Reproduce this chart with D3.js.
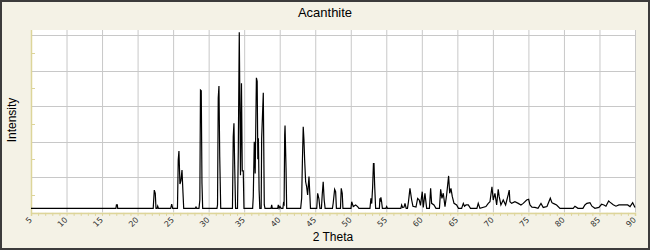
<!DOCTYPE html>
<html>
<head>
<meta charset="utf-8">
<script src="https://cdn.jsdelivr.net/npm/d3@7"></script>
<style>
  body { margin: 0; background: #fff; }
  text { font-family: "Liberation Sans", Arial, sans-serif; }
</style>
</head>
<body>
<div id="chart"></div>
<script>
// XRD pattern vertices
var twoTheta = [5, 16.95, 17.02, 17.15, 17.2, 22.2, 22.35, 22.49, 22.59, 22.75, 22.83, 22.94,
  24.66, 24.8, 24.94, 25.61, 25.72, 25.82, 25.96, 26.1, 26.25, 26.39, 26.49, 28.12, 28.22, 28.31,
  28.64, 28.76, 28.85, 28.96, 29.06, 29.16, 31.17, 31.25, 31.35, 31.45, 31.56, 31.7,
  33.35, 33.46, 33.56, 33.66, 33.79, 34.06, 34.17, 34.31, 34.48, 34.62, 34.73, 34.87, 34.97,
  36.19, 36.28, 36.42, 36.55, 36.72, 36.83, 36.92, 37.0, 37.1, 37.2, 37.39, 37.46, 37.69, 37.83, 37.93,
  38.78, 38.87, 38.96, 39.72, 39.8, 39.92, 40.04, 40.2, 40.45, 40.53, 40.62, 40.7, 40.75, 40.89, 40.98,
  42.95, 43.09, 43.2, 43.31, 43.41, 43.51, 43.65, 43.79, 43.93, 44.12, 44.21, 44.33,
  45.21, 45.34, 45.52, 45.66, 45.87, 45.98, 46.12, 46.26, 46.39, 47.42, 47.53, 47.73, 47.87, 47.98,
  48.55, 48.66, 48.8, 48.9, 50.03, 50.13, 50.35, 50.69, 50.97, 51.15,
  52.7, 52.84, 52.95, 53.08, 53.19, 53.27, 53.36, 53.5, 54.03, 54.1, 54.17, 54.24, 54.34, 54.45,
  54.95, 55.05, 55.15, 57.05, 57.16, 57.3, 57.5, 57.63, 57.8,
  57.98, 58.12, 58.33, 58.57, 58.75, 59.18, 59.41, 59.64, 59.81, 60.06, 60.2, 60.44, 60.68,
  61.07, 61.24, 61.38, 61.71, 61.99, 62.48, 62.65, 62.83, 63.02, 63.26, 63.49, 63.77, 63.92,
  64.1, 64.29, 64.53, 64.9, 65.16, 65.6, 65.84, 66.0, 66.22, 66.54, 66.85, 67.75, 67.94, 68.18,
  69.02, 69.35, 69.59, 69.87, 70.05, 70.29, 70.53, 70.75, 70.89, 71.13, 71.46, 71.79,
  72.16, 72.3, 72.4, 72.64, 73.1, 73.57, 73.95, 74.27, 74.75, 75.03, 75.22, 75.5, 75.92, 76.35,
  76.77, 77.09, 77.61, 78.08, 78.31, 78.5, 78.97, 79.44, 81.3, 81.55, 81.97, 82.67, 82.95, 83.23,
  83.66, 83.94, 84.36, 84.92, 85.3, 85.63, 85.91, 86.29, 86.47, 86.94, 87.32, 87.74, 88.35,
  88.97, 89.3, 89.67, 90];

var intensity = [2.3, 2.3, 4.2, 4.2, 2.3, 2.3, 12.6, 10.8, 2.3, 2.3, 3.6, 2.3,
  2.3, 4.7, 2.3, 2.3, 29.6, 34.7, 16, 18, 23.9, 11, 2.3, 2.3, 3, 2.3,
  2.3, 7, 69.1, 68.7, 16.4, 2.3, 2.3, 4.2, 64.6, 71.4, 31.4, 2.3,
  2.3, 42.7, 50.3, 26.8, 2.3, 2.3, 34.3, 101.7, 21, 72.9, 23.4, 23.4, 2.3,
  2.3, 8.9, 39.9, 22, 76, 74, 30, 41.8, 12.6, 2.3, 2.3, 41.8, 67.6, 4.2, 2.3,
  2.3, 4.2, 2.3, 2.3, 4.2, 2.3, 3.3, 2.3, 2.3, 5.1, 4.5, 43.7, 49, 25, 2.3,
  2.3, 8, 30, 48.4, 41.2, 29.6, 17.3, 14.5, 9.8, 20.2, 12.6, 2.3,
  2.3, 10.8, 7.6, 2.3, 2.3, 9.8, 17.3, 7, 2.3, 2.3, 5.3, 13, 11.7, 2.3,
  2.3, 13.6, 10.8, 2.3, 2.3, 6, 3.3, 4.2, 3.3, 2.3,
  2.3, 8, 5, 14.5, 27.5, 27.5, 15.5, 2.3, 2.3, 8, 6, 8.5, 6, 2.3,
  2.3, 3.3, 2.3, 2.3, 4.2, 2.8, 3, 5.1, 2.3,
  2.3, 6, 13.6, 7, 3.5, 3, 7.9, 7, 4, 11.7, 2.8, 10.8, 2.3,
  2.3, 13.6, 5.1, 4.2, 2.3, 2.3, 13, 7.9, 10.8, 3.3, 9.8, 20.6, 10.8,
  13.6, 8.9, 5.1, 4.2, 2.3, 2.3, 5.1, 3.5, 4.2, 4.2, 2.3, 2.3, 5.1, 2.3,
  3.3, 5.1, 6, 14.5, 7, 10.8, 4.2, 13, 8.9, 4.2, 7, 4.2,
  10, 12.6, 6, 5.1, 6, 5.1, 4.2, 5.1, 7, 7.4, 4.2, 3, 2.8, 2.3,
  5.1, 2.8, 3.3, 8, 5.5, 5.1, 4.2, 2.3, 2.3, 3.5, 2.3, 2.3, 4.2, 5.1,
  5.5, 3.5, 2.3, 2.8, 4.6, 4.2, 3.5, 6.5, 5.8, 4.3, 3.5, 4.2, 4.2,
  4.2, 3.3, 5.5, 2.8];

var xTicks = [5, 10, 15, 20, 25, 30, 35, 40, 45, 50, 55, 60, 65, 70, 75, 80, 85, 90];
var yGrid = [0, 20, 40, 60, 80, 100];
var yMinor = [10, 30, 50, 70, 90];

var W = 650, H = 250;
var margin = { top: 30, right: 15, bottom: 37.6, left: 31 };
var width = W - margin.left - margin.right,
    height = H - margin.top - margin.bottom;

var x = d3.scaleLinear().domain([5, 90]).range([0, 604]);
var y = d3.scaleLinear().domain([0, 103]).range([height, 0]);

var axisCol = "#ddd59a";

var svg = d3.select("#chart")
  .append("svg")
    .attr("width", W)
    .attr("height", H);

// frame + beige background
svg.append("rect")
  .attr("x", 1).attr("y", 1)
  .attr("width", W - 2).attr("height", H - 2)
  .attr("fill", "#f4f2e6")
  .attr("stroke", "#3c3c3c")
  .attr("stroke-width", 2);

var g = svg.append("g")
  .attr("transform", "translate(" + margin.left + "," + margin.top + ")");

// plot background
g.append("rect")
  .attr("x", 0).attr("y", 0)
  .attr("width", 605).attr("height", height)
  .attr("fill", "#fff");

// grid lines
g.selectAll(".vgrid")
  .data(xTicks.slice(1))
  .enter().append("line")
    .attr("x1", function(d) { return x(d) + 0.5; })
    .attr("x2", function(d) { return x(d) + 0.5; })
    .attr("y1", 0).attr("y2", height)
    .attr("stroke", "#c8c8c8");

g.selectAll(".hgrid")
  .data(yGrid.slice(1))
  .enter().append("line")
    .attr("x1", 0).attr("x2", 605)
    .attr("y1", function(d) { return Math.round(y(d)) + 0.5; })
    .attr("y2", function(d) { return Math.round(y(d)) + 0.5; })
    .attr("stroke", "#c8c8c8");

// left axis: yellow line with short minor ticks inside
g.append("line")
  .attr("x1", 0.5).attr("x2", 0.5)
  .attr("y1", 0).attr("y2", height + 1)
  .attr("stroke", axisCol).attr("stroke-width", 1.5);

g.selectAll(".ytick")
  .data(yMinor)
  .enter().append("line")
    .attr("x1", 0).attr("x2", 4)
    .attr("y1", function(d) { return Math.round(y(d)) + 0.5; })
    .attr("y2", function(d) { return Math.round(y(d)) + 0.5; })
    .attr("stroke", axisCol);

// bottom axis
var xAxis = g.append("g")
  .attr("transform", "translate(0," + (height + 0.5) + ")")
  .call(d3.axisBottom(x).tickValues(d3.range(5, 91, 1)).tickSize(3).tickFormat(""));
xAxis.select(".domain").attr("stroke", axisCol).attr("stroke-width", 1.5);
xAxis.selectAll(".tick line").attr("stroke", axisCol);

g.selectAll(".xlab")
  .data(xTicks)
  .enter().append("text")
    .attr("transform", function(d) {
      return "translate(" + (x(d) + 1.5) + "," + (height + 8) + ")rotate(-45)";
    })
    .attr("text-anchor", "end")
    .style("font-family", "'DejaVu Sans', sans-serif")
    .style("font-size", "8px")
    .attr("fill", "#333")
    .text(function(d) { return d; });

// the pattern
var line = d3.line()
  .x(function(d) { return x(d[0]); })
  .y(function(d) { return y(d[1]); });

g.append("path")
  .datum(d3.zip(twoTheta, intensity))
  .attr("d", line)
  .attr("fill", "none")
  .attr("stroke", "#000")
  .attr("stroke-width", 1.2)
  .attr("stroke-linejoin", "miter");

// labels
svg.append("text")
  .attr("x", 325).attr("y", 17)
  .attr("text-anchor", "middle")
  .style("font-size", "13px")
  .text("Acanthite");

svg.append("text")
  .attr("x", 333).attr("y", 241)
  .attr("text-anchor", "middle")
  .style("font-size", "12px")
  .text("2 Theta");

svg.append("text")
  .attr("transform", "translate(16,120)rotate(-90)")
  .attr("text-anchor", "middle")
  .style("font-size", "12px")
  .text("Intensity");
</script>
</body>
</html>
